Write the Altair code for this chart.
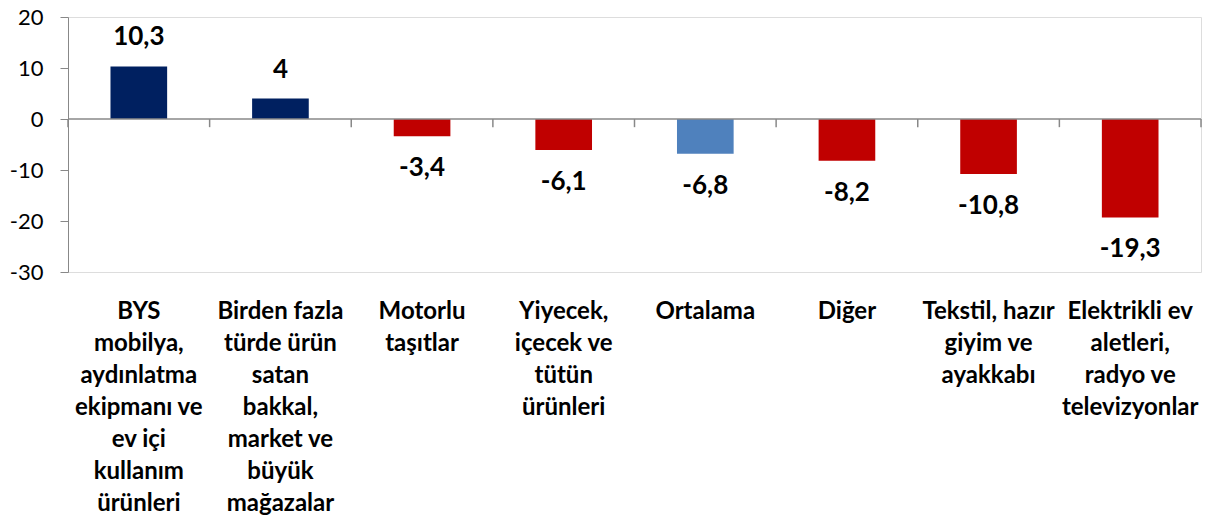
import altair as alt
import pandas as pd

categories = [
    "BYS|mobilya,|aydınlatma|ekipmanı ve|ev içi|kullanım|ürünleri",
    "Birden fazla|türde ürün|satan|bakkal,|market ve|büyük|mağazalar",
    "Motorlu|taşıtlar",
    "Yiyecek,|içecek ve|tütün|ürünleri",
    "Ortalama",
    "Diğer",
    "Tekstil, hazır|giyim ve|ayakkabı",
    "Elektrikli ev|aletleri,|radyo ve|televizyonlar",
]
values = [10.3, 4, -3.4, -6.1, -6.8, -8.2, -10.8, -19.3]
colors = ["#002060", "#002060", "#C00000", "#C00000", "#4F81BD", "#C00000", "#C00000", "#C00000"]

df = pd.DataFrame({"cat": categories, "value": values, "color": colors})

FONT = "Lato"
AXIS_GRAY = "#888888"

x_enc = alt.X(
    "cat:N",
    sort=categories,
    scale=alt.Scale(paddingInner=0, paddingOuter=0),
    axis=alt.Axis(
        title=None,
        domain=False,
        ticks=False,
        labelAngle=0,
        labelExpr="split(datum.label, '|')",
        labelFont=FONT,
        labelFontSize=24,
        labelFontWeight="bold",
        labelColor="black",
        labelLineHeight=32,
        labelPadding=27,
        labelBaseline="top",
        labelLimit=0,
    ),
)
y_scale = alt.Scale(domain=[-30, 20], nice=False)
y_enc = alt.Y(
    "value:Q",
    scale=y_scale,
    axis=alt.Axis(
        title=None,
        values=[-30, -20, -10, 0, 10, 20],
        labelExpr="toString(datum.value)",
        grid=False,
        domainColor=AXIS_GRAY,
        tickColor=AXIS_GRAY,
        tickSize=8,
        labelPadding=17,
        labelFont=FONT,
        labelFontSize=22,
        labelColor="black",
    ),
)

base = alt.Chart(df)

bars = base.mark_bar(width=alt.RelativeBandSize(0.4)).encode(
    x=x_enc,
    y=y_enc,
    y2=alt.datum(0),
    color=alt.Color("color:N", scale=None),
)

zero = base.mark_rule(color=AXIS_GRAY, strokeWidth=1.5).encode(
    x=alt.value(0), x2=alt.value(1133), y=alt.datum(0, scale=y_scale)
).transform_filter("datum.value == " + str(values[0]))

ticks = base.mark_rule(color=AXIS_GRAY, strokeWidth=1.5).encode(
    x=alt.X("cat:N", sort=categories, bandPosition=0),
    y=alt.datum(0),
    y2=alt.datum(-1.6),
)
last_tick = base.mark_rule(color=AXIS_GRAY, strokeWidth=1.5).encode(
    x=alt.X("cat:N", sort=categories, bandPosition=1),
    y=alt.datum(0),
    y2=alt.datum(-1.6),
).transform_filter("datum.value == " + str(values[-1]))

label_calc = "replace(toString(datum.value), '.', ',')"

pos_text = base.mark_text(
    font=FONT, fontSize=26, fontWeight="bold", color="black", baseline="middle", dy=-29
).encode(
    x=alt.X("cat:N", sort=categories),
    y=alt.Y("value:Q"),
    text="lbl:N",
).transform_filter("datum.value >= 0").transform_calculate(lbl=label_calc)

neg_text = base.mark_text(
    font=FONT, fontSize=26, fontWeight="bold", color="black", baseline="middle", dy=32
).encode(
    x=alt.X("cat:N", sort=categories),
    y=alt.Y("value:Q"),
    text="lbl:N",
).transform_filter("datum.value < 0").transform_calculate(lbl=label_calc)

chart = (
    alt.layer(bars, zero, ticks, last_tick, pos_text, neg_text)
    .properties(
        width=1133,
        height=255,
        autosize=alt.AutoSizeParams(type="none"),
        padding={"left": 60, "top": 9, "right": 3, "bottom": 249},
    )
    .configure_view(stroke=None)
    .configure(background="white")
)

chart.save("out.html", embed_options={"renderer": "svg", "actions": False})
